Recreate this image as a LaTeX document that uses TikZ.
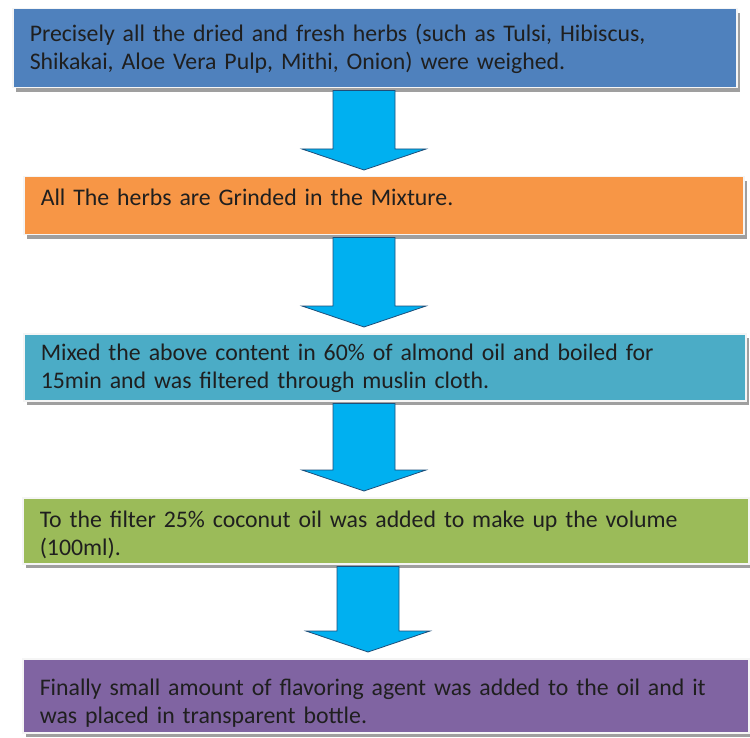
\documentclass[tikz,border=0pt]{standalone}
\usepackage{fontspec}
\setmainfont{Carlito}
\usetikzlibrary{positioning, calc, shadows}

\definecolor{stepblue}{HTML}{4F81BD}
\definecolor{steporange}{HTML}{F79646}
\definecolor{stepteal}{HTML}{4BACC6}
\definecolor{stepgreen}{HTML}{9BBB59}
\definecolor{steppurple}{HTML}{8064A2}
\definecolor{arrowcyan}{HTML}{00B0F0}
\definecolor{arrowedge}{HTML}{1F4E79}

\begin{document}
\begin{tikzpicture}[x=1pt, y=-1pt,
  stepbox/.style={anchor=north west, align=left, inner xsep=17pt, inner ysep=0pt,
    font=\fontsize{23.8}{28}\selectfont, text=black!88, draw=gray!8, line width=1.5pt,
    drop shadow={shadow xshift=3pt, shadow yshift=-4pt, fill=gray!75, opacity=1}},
  flowarrow/.style={fill=arrowcyan, draw=arrowedge, line width=0.8pt}]

% Page
\path[use as bounding box, fill=white] (0,0) rectangle (750,738);

% Steps
\node[stepbox, fill=stepblue, text width=690pt, text height=33pt, text depth=46pt] (weigh) at (12,8)
  {Precisely all the dried and fresh herbs (such as Tulsi, Hibiscus,\\
   Shikakai, Aloe Vera Pulp, Mithi, Onion) were weighed.};
\node[stepbox, fill=steporange, text width=686pt, text height=29pt, text depth=29pt] (grind) at (23,176)
  {All The herbs are Grinded in the Mixture.};
\node[stepbox, fill=stepteal, text width=688pt, text height=27pt, text depth=40pt] (boil) at (23,333)
  {Mixed the above content in 60\% of almond oil and boiled for\\
   15min and was filtered through muslin cloth.};
\node[stepbox, fill=stepgreen, text width=692pt, text height=30pt, text depth=36pt] (fill) at (22,497)
  {To the filter 25\% coconut oil was added to make up the volume\\
   (100ml).};
\node[stepbox, fill=steppurple, text width=692pt, text height=37pt, text depth=37pt] (flavour) at (22,658)
  {Finally small amount of flavoring agent was added to the oil and it\\
   was placed in transparent bottle.};

% Block arrows
\coordinate (axis) at (364,0);
\foreach \a/\b/\dx in {weigh/grind/0, grind/boil/0, boil/fill/0, fill/flavour/4} {
  \coordinate (t) at ($(\a.south -| axis)+(\dx,2)$);
  \coordinate (h) at ($(\b.north -| axis)+(\dx,-6)$);
  \draw[flowarrow] ($(t)+(-31,0)$) -- ($(t)+(31,0)$) -- ($(h)+(31,-21)$) -- ($(h)+(62,-21)$)
    -- (h) -- ($(h)+(-62,-21)$) -- ($(h)+(-31,-21)$) -- cycle;
}

\end{tikzpicture}
\end{document}
